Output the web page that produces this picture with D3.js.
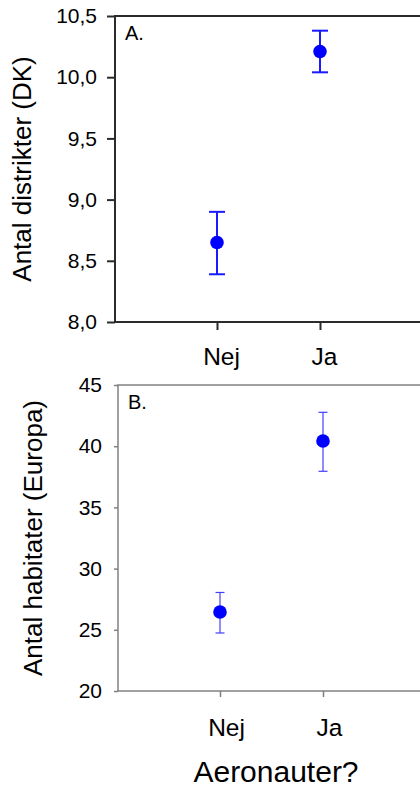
<!DOCTYPE html>
<html>
<head>
<meta charset="utf-8">
<script src="https://cdn.jsdelivr.net/npm/d3@7"></script>
<style>
  html, body { margin: 0; padding: 0; background: #fff; }
  svg { display: block; font-family: "Liberation Sans", Arial, sans-serif; }
</style>
</head>
<body>
<svg id="chart" width="420" height="790"></svg>
<script>
// ---- Data ----
const categories = ["Nej", "Ja"];

// Panel A: Antal distrikter (DK)
const meanA = [8.65, 10.21];
const lowA  = [8.39, 10.04];
const highA = [8.90, 10.38];
const ticksA = [8.0, 8.5, 9.0, 9.5, 10.0, 10.5];

// Panel B: Antal habitater (Europa)
const meanB = [26.45, 40.42];
const lowB  = [24.74, 37.95];
const highB = [28.05, 42.77];
const ticksB = [20, 25, 30, 35, 40, 45];

const labelA = "Antal distrikter (DK)";
const labelB = "Antal habitater (Europa)";
const panelA = "A.";
const panelB = "B.";
const xTitle = "Aeronauter?";

const svg = d3.select("#chart");
const svLocale = d3.formatLocale({decimal: ",", thousands: ".", grouping: [3], currency: ["", " kr"]});

function panel(opts) {
  const g = svg.append("g");
  const x = d3.scalePoint().domain(categories)
    .range([opts.left + opts.firstOffset, opts.left + opts.firstOffset + opts.step]);
  const y = d3.scaleLinear().domain(opts.domain).range([opts.bottom, opts.top]);

  // y axis
  const yAxis = d3.axisLeft(y).tickValues(opts.ticks)
    .tickFormat(opts.fmt).tickSize(opts.tickLen).tickPadding(opts.yPad);
  const ya = g.append("g").attr("transform", `translate(${opts.left},0)`).call(yAxis);
  ya.select(".domain").remove();
  ya.selectAll(".tick line").attr("stroke", opts.axisColor).attr("stroke-width", opts.axisWidth);
  ya.selectAll(".tick text").attr("font-size", opts.tickFont).attr("fill", "#000")
    .attr("font-family", "Liberation Sans, Arial, sans-serif");

  // x axis
  const xAxis = d3.axisBottom(x).tickSize(opts.xTickLen).tickFormat(d => d);
  const xa = g.append("g").attr("transform", `translate(0,${opts.bottom})`).call(xAxis);
  xa.select(".domain").remove();
  xa.selectAll(".tick line").attr("stroke", opts.axisColor).attr("stroke-width", opts.axisWidth);
  xa.selectAll(".tick text").attr("font-size", opts.catFont).attr("fill", "#000")
    .attr("font-family", "Liberation Sans, Arial, sans-serif")
    .attr("y", opts.catY).attr("dy", 0).attr("dx", opts.catDx);

  // frame lines: left, bottom, top (open right side)
  g.append("line").attr("x1", opts.left).attr("x2", opts.left)
    .attr("y1", opts.top).attr("y2", opts.bottom)
    .attr("stroke", opts.axisColor).attr("stroke-width", opts.axisWidth);
  g.append("line").attr("x1", opts.left - opts.axisWidth / 2).attr("x2", 420)
    .attr("y1", opts.bottom).attr("y2", opts.bottom)
    .attr("stroke", opts.axisColor).attr("stroke-width", opts.axisWidth);
  g.append("line").attr("x1", opts.left - opts.axisWidth / 2).attr("x2", 420)
    .attr("y1", opts.top).attr("y2", opts.top)
    .attr("stroke", opts.axisColor).attr("stroke-width", opts.axisWidth);

  // error bars
  const eb = g.append("g").attr("stroke", opts.errColor).attr("stroke-width", opts.errWidth);
  categories.forEach((c, i) => {
    const cx = x(c);
    eb.append("line").attr("x1", cx).attr("x2", cx).attr("y1", y(opts.low[i])).attr("y2", y(opts.high[i]));
    eb.append("line").attr("x1", cx - opts.cap).attr("x2", cx + opts.cap).attr("y1", y(opts.low[i])).attr("y2", y(opts.low[i]));
    eb.append("line").attr("x1", cx - opts.cap).attr("x2", cx + opts.cap).attr("y1", y(opts.high[i])).attr("y2", y(opts.high[i]));
  });

  // points
  g.selectAll("circle.pt").data(categories).enter().append("circle")
    .attr("class", "pt")
    .attr("cx", d => x(d))
    .attr("cy", (d, i) => y(opts.mean[i]))
    .attr("r", 6.8)
    .attr("fill", "#0000ff");

  // panel letter
  g.append("text").attr("x", opts.left + 10).attr("y", opts.top + 24)
    .attr("font-size", 20).attr("fill", "#000").text(opts.letter);

  // y label
  g.append("text")
    .attr("transform", `translate(${opts.labelX},${(opts.top + opts.bottom) / 2}) rotate(-90)`)
    .attr("text-anchor", "middle").attr("font-size", 26).attr("fill", "#000")
    .text(opts.ylabel);
}

panel({
  left: 115, top: 16, bottom: 322, firstOffset: 102, step: 103,
  domain: [8, 10.5], ticks: ticksA, fmt: svLocale.format(".1f"),
  tickLen: 8, xTickLen: 8, yPad: 10, tickFont: 21,
  axisColor: "#2b2b2b", axisWidth: 2,
  catFont: 24.5, catY: 43, catDx: 4,
  mean: meanA, low: lowA, high: highA,
  errColor: "#1a1aff", errWidth: 2, cap: 8,
  letter: panelA, ylabel: labelA, labelX: 31
});

panel({
  left: 118, top: 385, bottom: 691, firstOffset: 102, step: 103,
  domain: [20, 45], ticks: ticksB, fmt: d3.format("d"),
  tickLen: 4, xTickLen: 6, yPad: 12, tickFont: 21,
  axisColor: "#808080", axisWidth: 1.5,
  catFont: 24.5, catY: 45, catDx: 6,
  mean: meanB, low: lowB, high: highB,
  errColor: "#4040ff", errWidth: 1.2, cap: 4.5,
  letter: panelB, ylabel: labelB, labelX: 42
});

svg.append("text").attr("x", 276).attr("y", 782).attr("text-anchor", "middle")
  .attr("font-size", 30).attr("fill", "#000").text(xTitle);
</script>
</body>
</html>
